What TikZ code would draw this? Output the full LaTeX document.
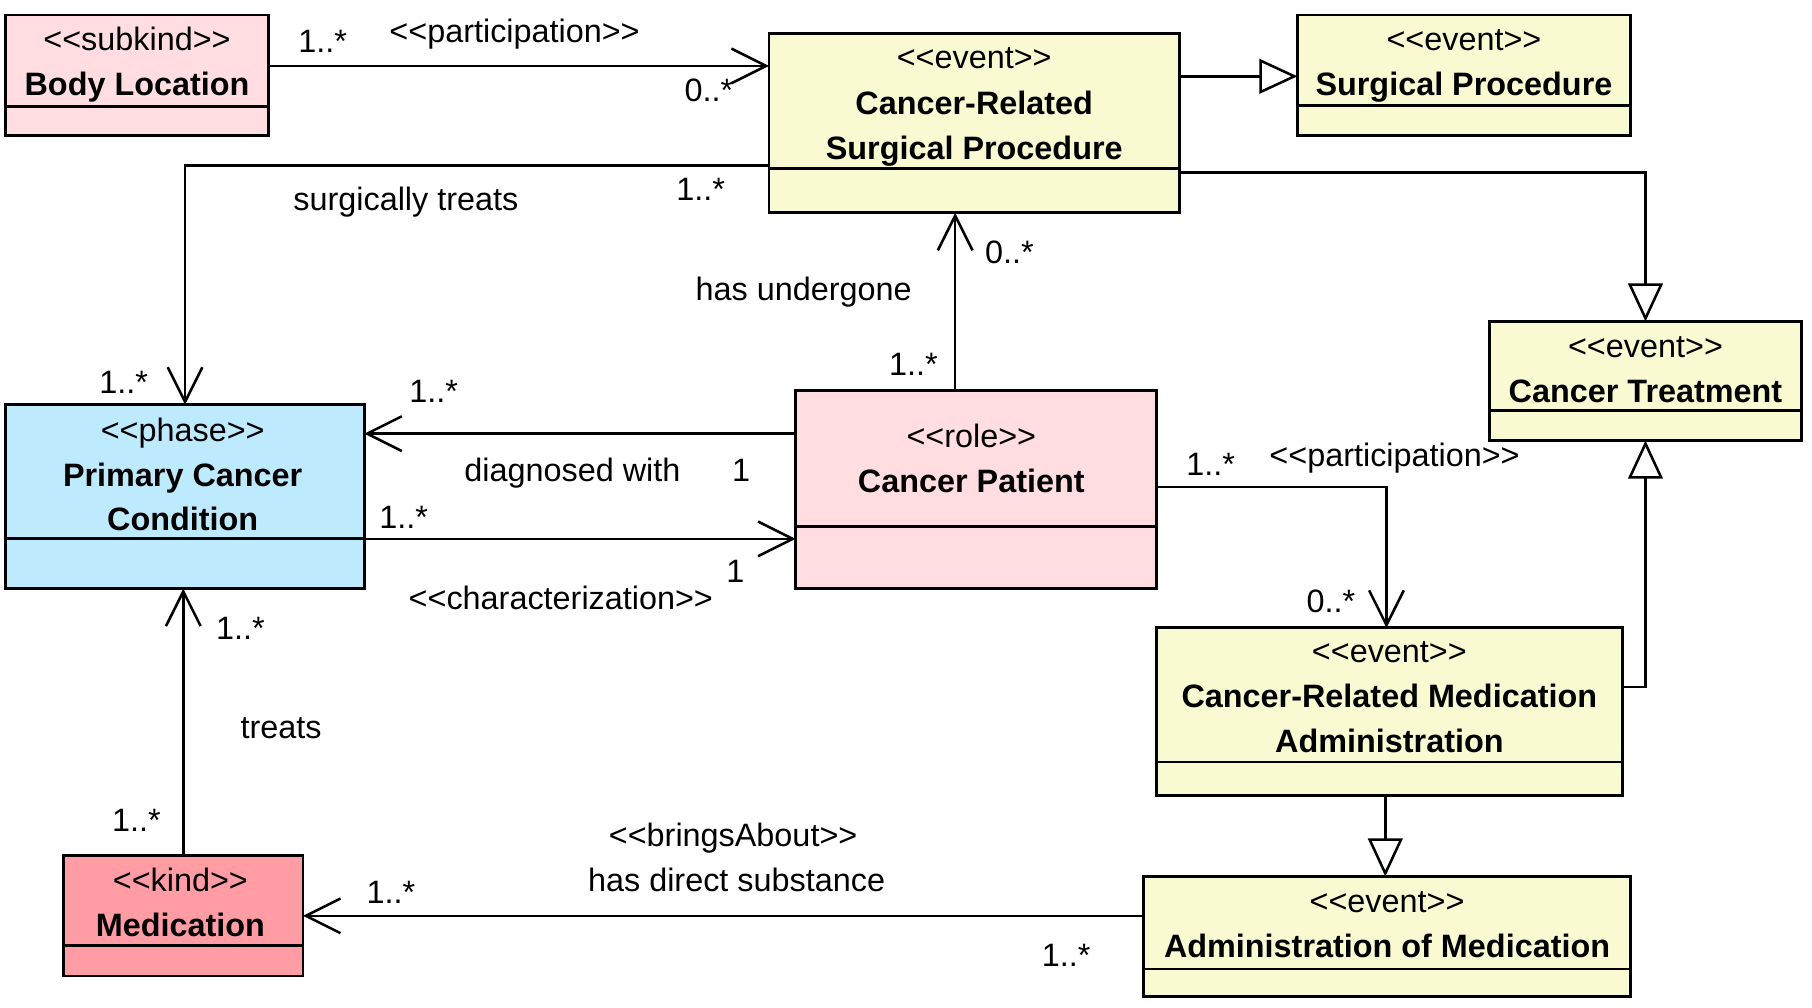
\documentclass[tikz,border=0pt]{standalone}
\usepackage{fontspec}
\newfontfamily\umlfont{Liberation Sans}
\usetikzlibrary{arrows.meta}
\definecolor{pinkl}{HTML}{FFDDE1}
\definecolor{pinkd}{HTML}{FF9CA4}
\definecolor{yel}{HTML}{FAFAD2}
\definecolor{blu}{HTML}{BEEAFD}
\begin{document}
\begin{tikzpicture}[x=1pt,y=-1pt,
  cls/.style={draw, line width=2.5pt, inner sep=0pt, outer sep=0pt},
  txt/.style={anchor=base, inner sep=0pt, font=\umlfont\fontsize{28}{34}\selectfont},
  bold/.style={txt, font=\umlfont\bfseries\fontsize{28}{34}\selectfont},
  assoc/.style={line width=2.2pt, -{Straight Barb[length=30pt,width=30pt,line width=2.2pt]}},
  gen/.style={line width=2.2pt, -{Triangle[open,length=33pt,width=30pt,line width=2.2pt]}},
  divl/.style={line width=2.5pt}]
\useasboundingbox (0,0) rectangle (1567,871.7);

% boxes
\node[cls, fill=pinkl, minimum width=227, minimum height=104] (bl) at (118.5,65) {};
\draw[divl] (bl.west |- 0,92) -- (bl.east |- 0,92);
\node[txt] at (118.5,44) {<<subkind>>};
\node[bold] at (118.5,83) {Body Location};

\node[cls, fill=yel, minimum width=355, minimum height=155] (crsp) at (842.5,106.5) {};
\draw[divl] (crsp.west |- 0,146) -- (crsp.east |- 0,146);
\node[txt] at (842.5,59) {<<event>>};
\node[bold] at (842.5,99) {Cancer-Related};
\node[bold] at (842.5,138) {Surgical Procedure};

\node[cls, fill=yel, minimum width=288, minimum height=104] (sp) at (1266,65) {};
\draw[divl] (sp.west |- 0,91) -- (sp.east |- 0,91);
\node[txt] at (1266,44) {<<event>>};
\node[bold] at (1266,83) {Surgical Procedure};

\node[cls, fill=yel, minimum width=270, minimum height=103] (ct) at (1423,329.5) {};
\draw[divl] (ct.west |- 0,355) -- (ct.east |- 0,355);
\node[txt] at (1423,309) {<<event>>};
\node[bold] at (1423,348) {Cancer Treatment};

\node[cls, fill=blu, minimum width=310, minimum height=159] (pcc) at (160,429.5) {};
\draw[divl] (pcc.west |- 0,466) -- (pcc.east |- 0,466);
\node[txt] at (158,382) {<<phase>>};
\node[bold] at (158,421) {Primary Cancer};
\node[bold] at (158,459) {Condition};

\node[cls, fill=pinkl, minimum width=312, minimum height=171] (cp) at (844,423.5) {};
\draw[divl] (cp.west |- 0,455) -- (cp.east |- 0,455);
\node[txt] at (840,387) {<<role>>};
\node[bold] at (840,426) {Cancer Patient};

\node[cls, fill=yel, minimum width=403, minimum height=145] (crma) at (1201.5,615.5) {};
\draw[divl] (crma.west |- 0,659) -- (crma.east |- 0,659);
\node[txt] at (1201.5,573) {<<event>>};
\node[bold] at (1201.5,612) {Cancer-Related Medication};
\node[bold] at (1201.5,651) {Administration};

\node[cls, fill=yel, minimum width=421, minimum height=104] (aom) at (1199.5,810) {};
\draw[divl] (aom.west |- 0,838) -- (aom.east |- 0,838);
\node[txt] at (1199.5,789) {<<event>>};
\node[bold] at (1199.5,828) {Administration of Medication};

\node[cls, fill=pinkd, minimum width=207, minimum height=104] (med) at (158.5,792) {};
\draw[divl] (med.west |- 0,818) -- (med.east |- 0,818);
\node[txt] at (156,771) {<<kind>>};
\node[bold] at (156,810) {Medication};

% connectors
\draw[assoc] (bl.east |- 0,57) -- (crsp.west |- 0,57);
\node[txt] at (279,45) {1..*};
\node[txt] at (445,37) {<<participation>>};
\node[txt] at (613,88) {0..*};

\draw[gen] (crsp.east |- 0,66) -- (sp.west |- 0,66);
\draw[gen] (crsp.east |- 0,149) -| (ct.north);

\draw[assoc] (crsp.west |- 0,143) -| (pcc.north);
\node[txt] at (351,182) {surgically treats};
\node[txt] at (606,173) {1..*};
\node[txt] at (107,340) {1..*};

\draw[assoc] (cp.north -| 826,0) -- (crsp.south -| 826,0);
\node[txt] at (695,260) {has undergone};
\node[txt] at (873,228) {0..*};
\node[txt] at (790,325) {1..*};

\draw[assoc] (cp.west |- 0,375) -- (pcc.east |- 0,375);
\node[txt] at (375,348) {1..*};
\node[txt] at (495,416) {diagnosed with};
\node[txt] at (641,416) {1};

\draw[assoc] (pcc.east |- 0,466) -- (cp.west |- 0,466);
\node[txt] at (349,457) {1..*};
\node[txt] at (636,504) {1};
\node[txt] at (485,527) {<<characterization>>};

\draw[assoc] (cp.east |- 0,421) -| (crma.north -| 1199,0);
\node[txt] at (1047,411) {1..*};
\node[txt] at (1206,403) {<<participation>>};
\node[txt] at (1151,530) {0..*};

\draw[gen] (crma.east |- 0,594) -| (ct.south);
\draw[gen] (crma.south -| 1198,0) -- (aom.north -| 1198,0);

\draw[assoc] (aom.west |- 0,792) -- (med.east |- 0,792);
\node[txt] at (634,732) {<<bringsAbout>>};
\node[txt] at (637,771) {has direct substance};
\node[txt] at (338,781) {1..*};
\node[txt] at (922,836) {1..*};

\draw[assoc] (med.north) -- (med.north |- pcc.south);
\node[txt] at (243,639) {treats};
\node[txt] at (208,553) {1..*};
\node[txt] at (118,719) {1..*};
\end{tikzpicture}
\end{document}
